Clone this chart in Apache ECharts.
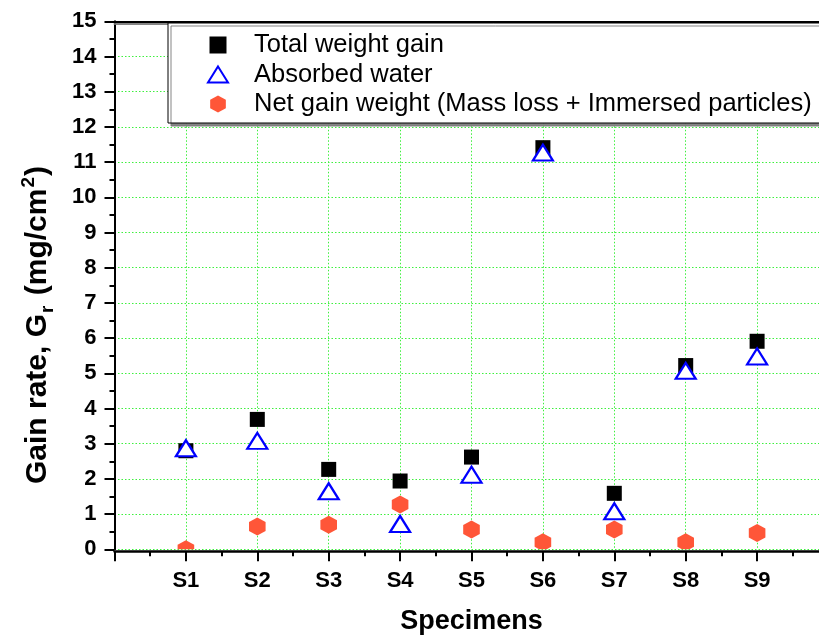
<!DOCTYPE html>
<html>
<head>
<meta charset="utf-8">
<script src="https://cdn.jsdelivr.net/npm/echarts@6/dist/echarts.min.js"></script>
<style>
html,body{margin:0;padding:0;background:#fff;}
#chart{width:819px;height:639px;}
</style>
</head>
<body>
<div id="chart"></div>
<script>
const categories = ['S1','S2','S3','S4','S5','S6','S7','S8','S9'];
const totalWeightGain = [2.80, 3.69, 2.27, 1.94, 2.62, 11.41, 1.59, 5.22, 5.91];
const absorbedWater   = [2.87, 3.08, 1.65, 0.72, 2.12, 11.27, 1.08, 5.07, 5.48];
const netGainWeight   = [0.00, 0.65, 0.70, 1.27, 0.56, 0.20, 0.56, 0.20, 0.46];
const yTicks = [0,1,2,3,4,5,6,7,8,9,10,11,12,13,14,15];

const FONT = '"Liberation Sans", Arial, sans-serif';
const GRID_GREEN = '#3df03d';
const HEX_COLOR = '#ff5638';
const hexPath = 'path://M8.3,0 L16.6,4.5 L16.6,13.5 L8.3,18 L0,13.5 L0,4.5 Z';

const toXY = arr => arr.map((v, i) => [i + 1, v]);

const chart = echarts.init(document.getElementById('chart'), null, {renderer: 'canvas'});

const option = {
  backgroundColor: '#ffffff',
  animation: false,
  grid: {left: 114.5, top: 21.3, width: 714, height: 528, containLabel: false, outerBoundsMode: 'none'},
  legend: {
    orient: 'vertical',
    left: 168,
    top: 23,
    padding: [9, 8, 6, 39],
    itemWidth: 20,
    itemHeight: 17,
    itemGap: 3.5,
    backgroundColor: '#ffffff',
    borderColor: '#000000',
    borderWidth: 1,
    borderRadius: 0,
    shadowColor: 'rgba(120,120,120,0.9)',
    shadowOffsetX: 3,
    shadowOffsetY: 3,
    shadowBlur: 0,
    z: 10,
    itemStyle: {opacity: 1},
    textStyle: {fontFamily: FONT, fontSize: 25.5, color: '#000', lineHeight: 24, padding: [0, 0, 0, 21]},
    data: [
      {name: 'Total weight gain', icon: 'path://M0,0 L15,0 L15,15 L0,15 Z', itemStyle: {color: '#000', borderWidth: 0, opacity: 1}},
      {name: 'Absorbed water', icon: 'path://M10,0 L20,16 L0,16 Z', itemStyle: {opacity: 1}},
      {name: 'Net gain weight (Mass loss + Immersed particles)', icon: hexPath, itemStyle: {opacity: 1}}
    ]
  },
  xAxis: [{
    type: 'value',
    min: 0, max: 10, interval: 1,
    offset: 2,
    name: 'Specimens',
    nameLocation: 'middle',
    nameGap: 57,
    nameTextStyle: {fontFamily: FONT, fontSize: 27, fontWeight: 'bold', color: '#000'},
    axisLine: {show: true, onZero: false, lineStyle: {color: '#000', width: 2.5}},
    axisTick: {show: true, inside: false, length: 10, lineStyle: {color: '#000', width: 2}},
    minorTick: {show: true, splitNumber: 2, length: 5, lineStyle: {color: '#000', width: 2}},
    axisLabel: {
      margin: 19,
      fontFamily: FONT, fontSize: 22, fontWeight: 'bold', color: '#000',
      formatter: v => (v >= 1 && v <= categories.length) ? categories[v - 1] : ''
    },
    splitLine: {show: true, lineStyle: {color: GRID_GREEN, width: 1, type: [1.5, 2]}}
  }, {
    type: 'value',
    position: 'top',
    min: 0, max: 10, interval: 1,
    axisLine: {show: true, onZero: false, lineStyle: {color: '#000', width: 2, shadowColor: 'rgba(120,120,120,0.9)', shadowOffsetY: 2, shadowBlur: 0}},
    axisTick: {show: false},
    axisLabel: {show: false},
    splitLine: {show: false}
  }],
  yAxis: {
    type: 'value',
    min: yTicks[0], max: yTicks[yTicks.length - 1], interval: 1,
    axisLine: {show: true, onZero: false, lineStyle: {color: '#000', width: 2}},
    axisTick: {show: true, inside: false, length: 10, lineStyle: {color: '#000', width: 2}},
    minorTick: {show: true, splitNumber: 2, length: 5, lineStyle: {color: '#000', width: 2}},
    axisLabel: {margin: 18, fontFamily: FONT, fontSize: 22, fontWeight: 'bold', color: '#000'},
    splitLine: {show: true, lineStyle: {color: GRID_GREEN, width: 1, type: [1.5, 2]}}
  },
  graphic: [{
    type: 'text',
    x: 38,
    y: 325,
    rotation: Math.PI / 2,
    style: {
      text: '{a|Gain rate, G}{sub|r}{a| (mg/cm}{sup|2}{a|)}',
      align: 'center',
      verticalAlign: 'middle',
      fill: '#000',
      rich: {
        a: {fontFamily: FONT, fontSize: 30, fontWeight: 'bold', fill: '#000', lineHeight: 42, verticalAlign: 'middle'},
        sub: {fontFamily: FONT, fontSize: 19, fontWeight: 'bold', fill: '#000', lineHeight: 42, verticalAlign: 'bottom', padding: [0, 2, 2, 1]},
        sup: {fontFamily: FONT, fontSize: 19, fontWeight: 'bold', fill: '#000', lineHeight: 42, verticalAlign: 'top', padding: [2, 1, 0, 1]}
      }
    }
  }],
  series: [{
    name: 'Total weight gain',
    type: 'scatter',
    data: toXY(totalWeightGain),
    symbol: 'rect',
    symbolSize: 15,
    itemStyle: {color: '#000000', borderWidth: 0, opacity: 1},
    z: 3
  }, {
    name: 'Absorbed water',
    type: 'scatter',
    data: toXY(absorbedWater),
    symbol: 'triangle',
    symbolSize: [20, 16],
    itemStyle: {color: '#ffffff', borderColor: '#0000ff', borderWidth: 2.2, opacity: 1},
    z: 4
  }, {
    name: 'Net gain weight (Mass loss + Immersed particles)',
    type: 'custom',
    clip: true,
    data: toXY(netGainWeight),
    itemStyle: {color: HEX_COLOR, opacity: 1},
    encode: {x: 0, y: 1},
    renderItem: function (params, api) {
      const p = api.coord([api.value(0), api.value(1)]);
      const hw = 8.3, hh = 9;
      return {
        type: 'polygon',
        shape: {points: [
          [p[0], p[1] - hh], [p[0] + hw, p[1] - hh / 2], [p[0] + hw, p[1] + hh / 2],
          [p[0], p[1] + hh], [p[0] - hw, p[1] + hh / 2], [p[0] - hw, p[1] - hh / 2]
        ]},
        style: {fill: HEX_COLOR}
      };
    },
    z: 5
  }]
};

chart.setOption(option);
</script>
</body>
</html>
